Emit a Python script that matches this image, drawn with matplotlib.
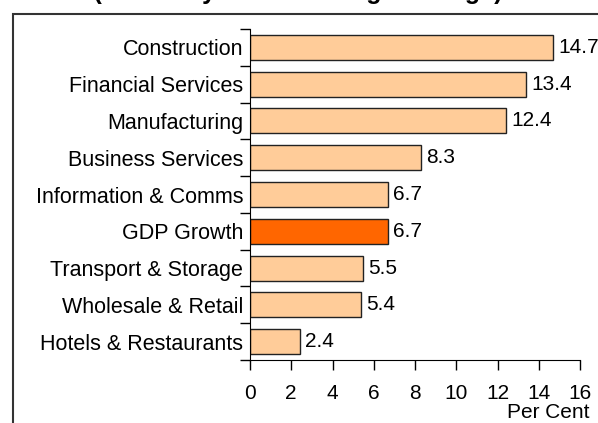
import matplotlib
matplotlib.use("Agg")
import matplotlib.pyplot as plt
import numpy as np
from matplotlib.patches import Rectangle

plt.rcParams["font.family"] = ["Liberation Sans", "DejaVu Sans"]

# sectors, top to bottom
sectors = [
    "Construction",
    "Financial Services",
    "Manufacturing",
    "Business Services",
    "Information & Comms",
    "GDP Growth",
    "Transport & Storage",
    "Wholesale & Retail",
    "Hotels & Restaurants",
]
growth = [14.7, 13.4, 12.4, 8.3, 6.7, 6.7, 5.5, 5.4, 2.4]
x_ticks = [0, 2, 4, 6, 8, 10, 12, 14, 16]

W, H = 598, 423
fig = plt.figure(figsize=(W / 100, H / 100), dpi=100)

# outer frame, runs off the right and bottom edges
frame = Rectangle((13 / W, -0.2), 1.2, 1.2 - 14 / H,
                  transform=fig.transFigure, fill=False,
                  edgecolor="#333333", linewidth=1.5)
fig.patches.append(frame)

# title, cut off at the top like the original
fig.text(33 / W, 1 + 1 / H, "GDP (Year-on-year Percentage Change)",
         fontsize=18, fontweight="bold", ha="left", va="baseline")

ax = fig.add_axes([250 / W, (H - 360) / H, 330 / W, 331 / H])

y = np.arange(len(sectors))
colors = ["#FF6600" if s == "GDP Growth" else "#FFCC99" for s in sectors]
ax.barh(y, growth, height=0.68, color=colors, edgecolor="#222222", linewidth=1)

for yi, v in zip(y, growth):
    ax.text(v + 0.25, yi, f"{v:.1f}", va="center", ha="left", fontsize=15)

ax.set_xlim(0, 16)
ax.set_ylim(len(sectors) - 0.5, -0.5)
ax.set_xticks(x_ticks)
ax.set_xticklabels([str(t) for t in x_ticks], fontsize=15)
ax.set_yticks(y)
ax.set_yticklabels(sectors, fontsize=15.5)
ax.set_yticks(np.arange(len(sectors) + 1) - 0.5, minor=True)
ax.tick_params(axis="y", which="major", length=0, pad=5)
ax.tick_params(axis="y", which="minor", length=7, width=1)
ax.tick_params(axis="x", length=7, width=1, pad=10)

for side in ["top", "right"]:
    ax.spines[side].set_visible(False)

ax.text(1.03, -0.13, "Per Cent", transform=ax.transAxes, ha="right",
        va="top", fontsize=15)

fig.savefig("out.png", dpi=100)
